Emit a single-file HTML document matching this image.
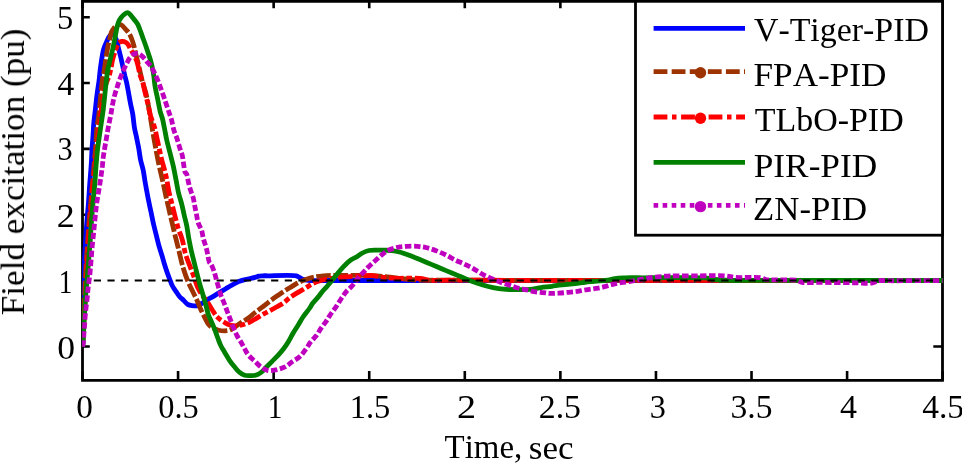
<!DOCTYPE html>
<html><head><meta charset="utf-8"><style>
html,body{margin:0;padding:0;background:#fff;}
body{width:962px;height:465px;overflow:hidden;font-family:"Liberation Serif",serif;}
svg{display:block;}
</style></head><body>
<svg width="962" height="465" viewBox="0 0 962 465">
<defs><clipPath id="pc"><rect x="82.1" y="3" width="861.1" height="375.5"/></clipPath></defs>
<g stroke="#000" fill="none" stroke-width="2.8">
<path d="M82.5,0 V380.3 H942.5 V0" stroke-linecap="square"/>
<path d="M82.5,1.3 H942.5"/>
<path d="M82.50,380.3 V370.9 M82.50,1.3 V8.2 M178.07,380.3 V370.9 M178.07,1.3 V8.2 M273.65,380.3 V370.9 M273.65,1.3 V8.2 M369.23,380.3 V370.9 M369.23,1.3 V8.2 M464.80,380.3 V370.9 M464.80,1.3 V8.2 M560.38,380.3 V370.9 M560.38,1.3 V8.2 M655.95,380.3 V370.9 M655.95,1.3 V8.2 M751.52,380.3 V370.9 M751.52,1.3 V8.2 M847.10,380.3 V370.9 M847.10,1.3 V8.2 M942.68,380.3 V370.9 M942.68,1.3 V8.2 M82.5,346.50 H89.8 M942.5,346.50 H933.3 M82.5,280.64 H89.8 M942.5,280.64 H933.3 M82.5,214.78 H89.8 M942.5,214.78 H933.3 M82.5,148.92 H89.8 M942.5,148.92 H933.3 M82.5,83.06 H89.8 M942.5,83.06 H933.3 M82.5,17.20 H89.8 M942.5,17.20 H933.3" stroke-width="2.6"/>
</g>
<g clip-path="url(#pc)" fill="none" stroke-width="4.8" stroke-linejoin="round">
<path d="M82.50,346.50 C82.6,342.1 82.9,328.7 83.0,320.0 C83.1,311.5 83.1,302.7 83.3,295.0 C83.4,288.5 83.6,282.9 83.8,276.8 C84.0,270.8 84.2,264.8 84.5,258.7 C84.8,252.4 85.3,245.8 85.7,239.4 C86.1,232.9 86.5,226.2 87.0,220.0 C87.4,214.3 88.0,209.4 88.4,203.7 C88.9,197.5 89.2,190.8 89.7,184.4 C90.2,177.9 90.8,171.2 91.2,165.0 C91.6,159.4 91.7,154.1 92.0,149.0 C92.3,144.4 92.7,140.3 93.0,136.0 C93.3,131.7 93.4,127.3 93.8,123.0 C94.2,118.7 94.8,114.6 95.3,110.0 C95.9,104.9 96.4,99.1 97.1,94.0 C97.7,89.4 98.4,85.4 99.0,81.0 C99.6,76.5 99.9,71.9 100.5,67.5 C101.1,63.2 101.8,58.5 102.4,55.0 C102.9,52.5 103.1,50.9 103.8,48.7 C104.6,46.2 106.0,43.2 107.0,41.0 C107.8,39.3 108.2,37.7 109.2,36.5 C110.1,35.4 111.5,33.8 112.5,34.0 C113.7,34.2 114.9,36.6 115.8,38.5 C117.1,41.1 117.8,45.5 118.6,48.7 C119.3,51.5 119.9,53.8 120.6,56.5 C121.3,59.5 122.0,62.8 122.7,66.0 C123.4,69.2 124.1,72.6 124.8,75.6 C125.5,78.3 126.2,80.6 126.8,83.4 C127.5,86.6 128.1,90.3 128.7,93.7 C129.3,97.1 129.9,100.6 130.6,104.0 C131.3,107.5 132.2,110.8 132.8,114.5 C133.4,118.4 133.7,123.0 134.3,126.8 C134.8,130.0 135.5,132.5 136.2,135.8 C137.0,139.7 138.0,144.5 138.8,148.7 C139.5,152.6 139.8,156.3 140.6,160.0 C141.3,163.5 142.5,166.7 143.2,170.3 C144.0,174.0 144.4,178.1 145.1,181.9 C145.7,185.5 146.3,188.8 147.0,192.3 C147.6,195.7 148.3,199.3 149.0,202.6 C149.6,205.7 150.2,208.3 150.9,211.6 C151.8,215.7 152.8,221.1 153.8,225.3 C154.7,229.0 155.5,232.2 156.4,235.6 C157.3,239.1 158.0,242.6 159.0,246.0 C160.0,249.5 161.2,253.0 162.2,256.3 C163.1,259.4 163.9,262.4 164.8,265.3 C165.6,268.0 166.5,270.6 167.4,273.1 C168.2,275.3 169.0,277.4 169.8,279.5 C170.6,281.5 171.2,283.6 172.2,285.5 C173.2,287.5 174.6,289.3 175.8,291.2 C177.0,293.0 178.1,294.9 179.5,296.5 C180.8,298.0 182.5,299.2 183.9,300.6 C185.2,301.9 186.3,303.6 187.7,304.4 C189.0,305.2 190.4,305.4 192.0,305.6 C193.8,305.9 196.4,306.1 198.1,305.6 C199.6,305.2 200.6,304.2 201.9,303.4 C203.4,302.5 204.8,301.3 206.5,300.2 C208.4,299.0 210.8,297.9 212.9,296.6 C215.1,295.3 217.2,293.9 219.4,292.6 C221.5,291.3 223.7,290.0 225.8,288.7 C228.0,287.4 230.1,286.1 232.3,284.9 C234.4,283.7 236.5,282.4 238.7,281.5 C240.8,280.6 242.9,280.1 245.0,279.6 C247.0,279.1 249.2,278.7 251.0,278.3 C252.5,278.0 253.7,277.8 255.0,277.4 C256.3,277.1 257.6,276.5 258.9,276.2 C260.2,275.9 261.6,275.9 263.0,275.8 C264.6,275.7 265.6,275.8 267.9,275.8 C273.5,275.8 291.6,274.6 296.3,275.8 C298.0,276.2 298.3,276.9 299.5,277.5 C300.9,278.2 302.4,279.1 304.0,279.6 C305.8,280.1 307.4,280.3 310.0,280.5 C314.7,280.8 323.2,280.5 329.8,280.5 C336.4,280.5 342.9,280.5 349.5,280.5 C356.1,280.5 362.7,280.5 369.3,280.5 C375.9,280.5 382.5,280.5 389.1,280.5 C395.7,280.5 402.2,280.5 408.8,280.5 C415.4,280.5 422.0,280.5 428.6,280.5 C435.2,280.5 441.8,280.5 448.4,280.5 C454.9,280.5 461.5,280.5 468.1,280.5 C474.7,280.5 481.3,280.5 487.9,280.5 C494.5,280.5 501.1,280.5 507.7,280.5 C514.2,280.5 520.8,280.5 527.4,280.5 C534.0,280.5 540.6,280.5 547.2,280.5 C553.8,280.5 560.4,280.5 567.0,280.5 C573.5,280.5 580.1,280.5 586.7,280.5 C593.3,280.5 599.9,280.5 606.5,280.5 C613.1,280.5 619.7,280.5 626.2,280.5 C632.8,280.5 639.4,280.5 646.0,280.5 C652.6,280.5 659.2,280.5 665.8,280.5 C672.4,280.5 679.0,280.5 685.5,280.5 C692.1,280.5 698.7,280.5 705.3,280.5 C711.9,280.5 718.5,280.5 725.1,280.5 C731.7,280.5 738.3,280.5 744.8,280.5 C751.4,280.5 758.0,280.5 764.6,280.5 C771.2,280.5 777.8,280.5 784.4,280.5 C791.0,280.5 797.6,280.5 804.1,280.5 C810.7,280.5 817.3,280.5 823.9,280.5 C830.5,280.5 837.1,280.5 843.7,280.5 C850.3,280.5 856.8,280.5 863.4,280.5 C870.0,280.5 876.6,280.5 883.2,280.5 C889.8,280.5 896.4,280.5 903.0,280.5 C909.6,280.5 916.1,280.5 922.7,280.5 C929.3,280.5 939.2,280.5 942.5,280.5" stroke="#0000ff"/>
<path d="M82.50,346.50 C82.7,342.1 83.1,328.7 83.5,320.0 C83.8,311.5 84.2,303.3 84.6,295.0 C85.0,286.7 85.3,278.3 85.8,270.0 C86.3,261.7 86.8,253.3 87.4,245.0 C88.0,236.7 88.6,227.9 89.2,220.0 C89.8,213.0 90.4,206.7 91.0,200.0 C91.6,193.3 92.2,186.7 92.8,180.0 C93.4,173.3 94.0,166.2 94.5,160.0 C95.0,154.6 95.4,150.1 95.8,145.0 C96.2,139.9 96.3,134.3 96.8,129.4 C97.3,124.9 98.0,121.1 98.6,116.5 C99.2,111.4 99.7,105.9 100.3,100.2 C100.9,94.0 101.5,86.2 102.3,80.8 C102.9,76.8 103.6,74.3 104.2,70.5 C105.0,65.9 105.7,59.3 106.4,55.0 C106.9,51.9 107.3,49.6 107.8,47.0 C108.3,44.5 109.0,42.2 109.6,39.7 C110.2,37.1 110.7,33.9 111.5,31.9 C112.1,30.5 112.7,29.7 113.5,28.7 C114.4,27.6 115.7,26.1 117.0,25.5 C118.2,24.9 119.7,24.4 121.0,24.8 C122.6,25.3 124.3,27.9 125.7,29.4 C127.0,30.8 128.2,31.8 129.2,33.4 C130.4,35.4 131.5,38.2 132.3,40.5 C133.1,42.6 133.5,44.4 134.1,46.5 C134.7,48.8 135.2,51.4 135.8,53.9 C136.4,56.4 137.0,58.8 137.7,61.6 C138.5,64.9 139.5,69.0 140.3,72.5 C141.1,75.8 141.6,78.7 142.5,82.0 C143.5,85.7 145.0,89.3 146.0,93.5 C147.2,98.5 148.2,104.6 149.2,110.3 C150.2,116.1 151.1,122.0 152.1,127.9 C153.1,133.9 154.2,140.1 155.3,146.0 C156.3,151.7 157.3,157.1 158.5,162.7 C159.7,168.5 161.2,174.4 162.5,180.3 C163.8,186.3 165.1,192.5 166.4,198.4 C167.7,204.1 169.0,209.5 170.3,215.2 C171.7,221.1 173.1,227.1 174.5,233.1 C176.0,239.1 177.6,245.3 179.0,251.1 C180.3,256.5 181.3,261.5 182.8,266.6 C184.3,271.7 186.2,277.3 188.1,281.8 C189.7,285.6 191.4,288.7 193.0,292.0 C194.5,295.2 196.1,298.3 197.5,301.5 C198.9,304.7 200.2,308.2 201.5,311.0 C202.6,313.4 203.6,315.3 204.7,317.5 C205.9,319.7 206.9,322.4 208.4,324.2 C209.7,325.8 211.3,327.0 213.0,328.0 C214.7,329.0 216.8,329.7 218.7,330.2 C220.6,330.7 222.6,330.8 224.5,330.8 C226.4,330.8 228.2,330.7 230.0,330.0 C232.0,329.2 233.9,327.5 236.0,326.2 C238.3,324.7 240.8,322.9 243.0,321.5 C244.9,320.2 246.6,319.4 248.5,318.0 C250.6,316.5 252.9,314.2 255.0,312.6 C256.8,311.2 258.5,310.0 260.2,308.7 C261.9,307.4 263.5,306.2 265.3,304.8 C267.3,303.2 269.6,301.3 271.8,299.7 C273.9,298.1 276.0,296.7 278.2,295.2 C280.7,293.5 283.5,291.6 286.0,290.0 C288.2,288.6 290.3,287.4 292.4,286.1 C294.6,284.8 296.6,283.4 298.9,282.3 C301.3,281.1 304.1,280.1 306.6,279.2 C308.8,278.4 310.7,277.8 313.1,277.3 C316.1,276.6 319.7,276.1 323.3,275.8 C327.5,275.4 331.9,275.5 336.7,275.4 C342.3,275.3 349.0,275.4 355.0,275.4 C360.8,275.4 367.1,275.4 372.0,275.6 C375.8,275.8 378.6,276.1 382.0,276.4 C385.7,276.7 389.5,277.2 393.3,277.6 C397.2,278.0 400.9,278.6 405.0,279.0 C409.7,279.5 414.7,280.0 420.0,280.2 C426.0,280.4 432.9,280.2 439.4,280.2 C445.8,280.2 452.3,280.2 458.7,280.2 C465.2,280.2 471.6,280.2 478.1,280.2 C484.5,280.2 491.0,280.3 497.4,280.3 C503.9,280.3 510.3,280.3 516.8,280.3 C523.2,280.3 529.7,280.3 536.1,280.3 C542.6,280.3 549.0,280.3 555.5,280.3 C561.9,280.3 568.4,280.3 574.8,280.3 C581.3,280.3 587.7,280.3 594.2,280.3 C600.6,280.3 607.1,280.3 613.5,280.3 C620.0,280.4 626.4,280.4 632.9,280.4 C639.3,280.4 645.8,280.4 652.2,280.4 C658.7,280.4 665.1,280.4 671.6,280.4 C678.0,280.4 684.5,280.4 690.9,280.4 C697.4,280.4 703.8,280.4 710.3,280.4 C716.7,280.4 723.2,280.4 729.6,280.4 C736.1,280.4 742.5,280.4 749.0,280.5 C755.4,280.5 761.9,280.5 768.3,280.5 C774.8,280.5 781.2,280.5 787.7,280.5 C794.1,280.5 800.6,280.5 807.0,280.5 C813.5,280.5 819.9,280.5 826.4,280.5 C832.8,280.5 839.3,280.5 845.7,280.5 C852.2,280.5 858.6,280.5 865.1,280.5 C871.5,280.5 878.0,280.6 884.4,280.6 C890.9,280.6 897.3,280.6 903.8,280.6 C910.2,280.6 916.7,280.6 923.1,280.6 C929.6,280.6 939.3,280.6 942.5,280.6" stroke="#9c3300" stroke-dasharray="14.5 2.6"/>
<path d="M82.50,346.50 C82.8,342.1 83.5,328.7 84.0,320.0 C84.5,311.5 85.0,303.9 85.5,295.0 C86.1,284.9 86.5,272.9 87.1,262.6 C87.6,253.2 88.3,244.2 88.9,235.5 C89.5,227.4 90.2,219.7 90.8,212.0 C91.4,204.5 91.7,197.2 92.3,190.0 C92.9,183.2 93.8,176.7 94.5,170.0 C95.2,163.3 95.9,156.7 96.6,150.0 C97.3,143.3 98.0,136.5 98.8,130.0 C99.5,123.8 100.2,117.8 101.0,112.0 C101.7,106.5 102.5,100.9 103.4,96.0 C104.2,91.7 104.9,87.7 106.0,84.0 C107.0,80.7 108.5,78.0 109.4,75.0 C110.2,72.2 110.7,69.3 111.3,66.6 C111.8,64.0 112.2,61.3 112.8,59.0 C113.3,57.0 113.8,55.4 114.4,53.6 C114.9,51.9 115.4,50.4 116.1,48.7 C116.8,46.9 117.4,44.2 118.6,43.0 C119.5,42.1 120.7,41.6 121.8,41.5 C123.0,41.4 124.6,41.7 125.7,42.3 C126.7,42.9 127.5,43.7 128.3,44.8 C129.3,46.2 130.0,48.3 131.0,50.0 C132.0,51.7 133.2,53.4 134.1,55.2 C135.0,56.9 135.9,58.8 136.5,60.5 C137.1,62.1 137.4,63.3 137.9,65.2 C138.6,68.0 139.3,72.5 140.2,75.5 C140.9,77.9 142.0,79.5 142.7,81.9 C143.5,84.6 144.0,88.1 144.7,91.0 C145.3,93.7 146.0,96.1 146.6,98.7 C147.2,101.3 147.9,103.8 148.5,106.5 C149.2,109.5 149.7,112.7 150.6,116.0 C151.7,119.8 153.6,123.9 154.7,127.9 C155.8,131.8 156.4,135.6 157.3,139.5 C158.1,143.4 159.0,147.5 159.8,151.1 C160.5,154.3 161.1,157.6 161.8,160.2 C162.3,162.2 162.7,163.4 163.3,165.5 C164.2,168.7 165.5,173.5 166.4,177.7 C167.4,182.2 168.0,187.3 169.0,191.9 C170.0,196.3 171.1,200.5 172.2,204.8 C173.3,209.2 174.4,213.8 175.5,218.0 C176.5,221.8 177.4,225.7 178.4,228.9 C179.2,231.5 180.2,233.5 181.0,235.8 C181.7,237.9 182.3,239.7 182.9,242.1 C183.7,245.4 184.3,249.8 185.4,253.7 C186.6,257.9 188.5,262.3 190.0,266.3 C191.3,269.9 192.6,273.1 193.9,276.6 C195.1,280.0 196.1,283.8 197.5,287.0 C198.8,289.9 200.4,292.5 202.0,295.0 C203.6,297.3 205.5,299.1 207.1,301.5 C208.9,304.1 210.6,307.4 212.3,310.0 C213.8,312.3 215.0,314.6 216.5,316.3 C217.8,317.7 219.1,318.7 220.5,319.8 C222.0,320.9 223.6,321.9 225.2,322.8 C226.8,323.7 228.4,324.5 230.0,325.0 C231.6,325.5 233.4,325.9 235.0,326.0 C236.5,326.1 237.7,325.9 239.2,325.6 C240.9,325.3 242.6,324.8 244.4,324.2 C246.4,323.5 248.8,322.6 250.8,321.6 C252.7,320.6 254.4,319.5 256.3,318.4 C258.4,317.2 260.5,315.7 262.7,314.5 C264.8,313.3 267.0,312.3 269.2,311.1 C271.7,309.8 274.5,308.2 276.9,306.8 C279.2,305.5 281.3,304.4 283.4,302.9 C285.6,301.4 287.5,299.4 289.8,297.7 C292.2,295.9 295.0,294.2 297.6,292.6 C300.2,291.0 302.8,289.6 305.3,288.1 C307.6,286.8 309.6,285.3 311.8,284.2 C314.0,283.1 316.1,282.1 318.5,281.3 C321.1,280.4 323.9,279.8 326.7,279.2 C329.4,278.6 332.0,278.2 335.0,277.8 C338.6,277.3 342.9,277.1 346.7,276.8 C350.3,276.5 353.4,276.3 357.3,276.1 C362.0,275.9 368.3,275.3 372.7,275.6 C376.1,275.8 378.6,276.8 381.8,277.2 C385.4,277.7 388.7,278.0 393.3,278.2 C400.3,278.5 413.3,277.9 420.0,278.5 C424.2,278.9 426.1,279.9 430.0,280.2 C435.5,280.7 443.1,280.2 449.7,280.2 C456.3,280.2 462.9,280.2 469.4,280.2 C476.0,280.2 482.6,280.2 489.1,280.2 C495.7,280.3 502.3,280.3 508.8,280.3 C515.4,280.3 522.0,280.3 528.6,280.3 C535.1,280.3 541.7,280.3 548.3,280.3 C554.8,280.3 561.4,280.3 568.0,280.3 C574.6,280.3 581.1,280.3 587.7,280.3 C594.3,280.3 600.8,280.3 607.4,280.3 C614.0,280.3 620.5,280.3 627.1,280.4 C633.7,280.4 640.3,280.4 646.8,280.4 C653.4,280.4 660.0,280.4 666.5,280.4 C673.1,280.4 679.7,280.4 686.2,280.4 C692.8,280.4 699.4,280.4 706.0,280.4 C712.5,280.4 719.1,280.4 725.7,280.4 C732.2,280.4 738.8,280.4 745.4,280.4 C752.0,280.5 758.5,280.5 765.1,280.5 C771.7,280.5 778.2,280.5 784.8,280.5 C791.4,280.5 797.9,280.5 804.5,280.5 C811.1,280.5 817.7,280.5 824.2,280.5 C830.8,280.5 837.4,280.5 843.9,280.5 C850.5,280.5 857.1,280.5 863.7,280.5 C870.2,280.5 876.8,280.5 883.4,280.6 C889.9,280.6 896.5,280.6 903.1,280.6 C909.6,280.6 916.2,280.6 922.8,280.6 C929.4,280.6 939.2,280.6 942.5,280.6" stroke="#ff0000" stroke-dasharray="14.5 2.8 5.5 2.8"/>
<path d="M82.50,346.50 C82.6,345.7 83.0,343.6 83.2,341.6 C83.5,338.6 83.5,334.1 83.7,330.0 C83.9,325.3 84.2,320.0 84.5,315.0 C84.8,310.0 85.1,305.0 85.4,300.0 C85.7,295.0 86.1,290.0 86.5,285.0 C86.9,280.0 87.5,275.0 87.9,270.0 C88.3,265.0 88.7,260.0 89.1,255.0 C89.5,250.0 89.9,245.4 90.3,240.0 C90.7,233.8 91.1,226.3 91.6,220.0 C92.0,214.4 92.4,209.6 92.9,204.0 C93.5,197.7 94.3,190.6 94.8,184.0 C95.3,177.6 95.6,171.1 96.1,165.0 C96.6,159.4 97.0,154.1 97.6,149.0 C98.1,144.4 98.8,140.3 99.4,136.0 C100.0,131.7 100.7,127.3 101.3,123.0 C101.9,118.7 102.6,114.6 103.2,110.0 C103.8,104.9 104.4,99.1 104.9,94.0 C105.4,89.4 105.8,85.1 106.3,81.0 C106.8,77.2 107.1,73.7 107.8,70.0 C108.5,66.3 109.5,62.6 110.3,59.0 C111.1,55.5 112.0,52.3 112.8,48.7 C113.7,44.7 114.6,39.9 115.4,35.8 C116.1,32.2 116.6,28.4 117.4,25.5 C118.0,23.3 118.6,21.5 119.6,19.8 C120.6,18.1 121.8,16.4 123.2,15.2 C124.5,14.1 126.5,12.6 127.7,12.6 C128.5,12.6 128.9,13.3 129.6,13.9 C130.8,15.0 132.4,17.3 133.8,19.0 C135.1,20.7 136.6,22.3 137.7,24.2 C138.8,26.2 139.5,28.4 140.3,30.6 C141.2,32.9 142.0,35.3 142.8,37.7 C143.7,40.1 144.6,42.4 145.4,44.8 C146.3,47.3 147.1,50.0 148.0,52.6 C148.8,55.1 149.8,57.6 150.5,60.2 C151.2,62.8 151.9,65.4 152.4,68.0 C153.0,70.6 153.4,73.2 153.8,76.0 C154.3,79.1 154.4,82.3 155.0,85.8 C155.6,89.8 156.7,94.4 157.6,98.7 C158.5,103.0 159.3,108.0 160.2,111.6 C160.9,114.3 161.7,116.0 162.4,118.5 C163.2,121.4 163.7,124.5 164.4,127.9 C165.2,131.9 165.9,136.5 166.9,140.8 C167.9,145.1 169.1,149.4 170.2,153.7 C171.3,158.0 172.4,162.2 173.4,166.6 C174.4,171.1 175.2,175.8 176.1,180.3 C177.0,184.7 177.6,189.0 178.6,193.2 C179.6,197.2 180.9,200.9 181.9,204.8 C182.9,208.7 183.6,212.8 184.5,216.5 C185.3,219.8 186.1,222.6 186.8,226.0 C187.5,229.7 188.0,233.9 188.7,237.9 C189.5,242.1 190.3,246.5 191.3,250.8 C192.3,255.1 193.5,259.6 194.5,263.7 C195.4,267.3 196.3,270.8 197.1,274.0 C197.8,276.8 198.5,279.3 199.2,282.0 C199.9,284.7 200.7,287.4 201.5,290.0 C202.2,292.4 202.9,294.7 203.6,297.0 C204.2,299.1 204.7,300.8 205.4,303.2 C206.3,306.6 207.4,312.0 208.6,315.3 C209.5,317.7 210.4,319.4 211.3,321.5 C212.3,323.7 213.3,326.0 214.2,328.2 C215.1,330.4 215.8,332.5 216.6,334.7 C217.4,336.8 218.1,339.0 218.9,341.0 C219.6,342.8 220.1,344.3 221.0,346.0 C222.0,348.0 223.3,350.0 224.6,352.2 C226.2,354.8 228.0,358.2 229.8,360.8 C231.3,363.0 232.9,364.9 234.5,366.8 C236.1,368.7 237.5,370.7 239.3,372.1 C241.0,373.5 242.8,374.7 244.7,375.3 C246.4,375.8 248.2,375.6 250.0,375.6 C251.8,375.6 253.6,375.8 255.4,375.3 C257.3,374.8 259.1,373.8 260.8,372.6 C262.7,371.2 264.4,369.1 266.2,367.3 C268.0,365.5 269.7,363.8 271.6,361.9 C273.6,359.8 276.0,357.6 278.0,355.4 C279.9,353.3 281.7,351.2 283.4,349.0 C285.1,346.8 286.7,344.5 288.2,342.0 C289.8,339.3 291.3,336.3 292.9,333.5 C294.5,330.8 296.2,328.2 297.9,325.5 C299.6,322.7 301.1,319.8 303.0,317.0 C304.9,314.1 307.6,311.1 309.4,308.5 C310.8,306.5 311.5,304.8 312.9,303.0 C314.5,300.9 316.8,298.6 318.5,296.6 C319.9,294.8 321.0,293.2 322.4,291.5 C323.8,289.8 325.6,288.1 327.0,286.5 C328.2,285.1 329.0,284.1 330.2,282.6 C332.0,280.4 334.4,277.4 336.6,274.8 C338.7,272.2 340.8,269.5 343.1,267.1 C345.5,264.6 348.2,261.8 350.8,260.0 C353.0,258.5 355.3,257.7 357.3,256.5 C359.1,255.4 360.5,254.0 362.4,253.0 C364.4,252.0 366.6,251.0 368.9,250.5 C371.3,250.0 374.0,250.2 376.6,250.1 C379.3,250.0 382.3,250.1 385.0,250.2 C387.4,250.3 389.6,250.3 392.0,250.6 C394.7,250.9 397.4,251.5 400.3,252.3 C403.6,253.2 407.2,254.5 410.6,255.8 C414.1,257.1 417.5,258.7 421.0,260.1 C424.4,261.5 427.9,263.0 431.3,264.4 C434.7,265.8 438.2,267.3 441.6,268.7 C445.0,270.1 448.5,271.6 451.9,273.0 C455.3,274.4 458.8,275.9 462.2,277.3 C465.6,278.7 469.0,280.3 472.5,281.6 C475.9,282.9 479.3,284.0 482.8,285.0 C486.2,286.0 489.6,286.9 493.1,287.6 C496.5,288.3 499.9,288.9 503.5,289.2 C507.2,289.6 510.9,289.6 515.0,289.6 C519.7,289.7 525.4,289.8 530.0,289.4 C534.0,289.1 537.3,288.1 541.0,287.6 C544.7,287.1 548.4,286.8 552.0,286.3 C555.4,285.8 558.4,285.2 562.0,284.8 C566.0,284.3 571.0,284.0 575.0,283.6 C578.6,283.2 581.5,282.7 585.0,282.3 C588.8,281.9 593.1,281.6 597.0,281.2 C600.7,280.9 604.8,280.7 608.0,280.2 C610.6,279.8 612.4,279.0 615.0,278.6 C618.0,278.1 621.2,278.0 625.0,277.8 C630.2,277.6 637.2,277.8 643.3,277.8 C649.4,277.8 655.6,277.7 661.7,277.7 C667.8,277.7 673.4,277.7 680.0,277.7 C687.7,277.7 698.6,277.4 705.0,277.9 C709.1,278.2 711.3,279.1 715.0,279.5 C719.5,280.0 724.7,280.2 730.0,280.4 C736.0,280.6 742.9,280.4 749.3,280.4 C755.8,280.4 762.2,280.4 768.6,280.4 C775.1,280.4 781.5,280.4 788.0,280.4 C794.4,280.4 800.8,280.4 807.3,280.4 C813.7,280.4 820.2,280.4 826.6,280.4 C833.0,280.4 839.5,280.5 845.9,280.5 C852.3,280.5 858.8,280.5 865.2,280.5 C871.7,280.5 878.1,280.5 884.5,280.5 C891.0,280.5 897.4,280.5 903.9,280.5 C910.3,280.5 916.7,280.5 923.2,280.5 C929.6,280.5 939.3,280.5 942.5,280.5" stroke="#008000"/>
<path d="M82.50,346.50 C82.6,346.1 83.0,345.1 83.2,344.0 C83.6,341.9 83.6,338.0 83.8,335.0 C84.0,332.0 84.3,329.0 84.5,326.0 C84.7,323.0 84.9,320.0 85.1,317.0 C85.4,314.0 85.7,310.9 86.0,308.0 C86.3,305.3 86.7,302.7 87.0,300.0 C87.3,297.1 87.5,294.0 87.8,291.0 C88.1,288.0 88.5,285.0 88.9,282.0 C89.3,279.0 89.7,276.0 90.0,273.0 C90.3,270.0 90.5,267.0 90.8,264.0 C91.0,261.0 91.3,258.0 91.5,255.0 C91.7,252.0 91.9,249.0 92.2,246.0 C92.5,243.0 92.9,240.0 93.2,237.0 C93.5,234.0 93.8,231.0 94.1,228.0 C94.4,225.0 94.7,222.0 95.0,219.0 C95.3,216.0 95.5,213.1 95.9,210.0 C96.3,206.8 96.7,203.2 97.2,200.0 C97.7,196.9 98.2,193.9 98.7,191.0 C99.2,188.3 99.6,185.7 100.0,183.0 C100.4,180.3 100.8,177.7 101.2,175.0 C101.6,172.1 102.0,169.0 102.4,166.0 C102.7,163.0 102.9,160.0 103.3,157.0 C103.7,153.9 104.3,150.6 104.8,147.5 C105.3,144.5 105.9,141.5 106.4,138.5 C106.9,135.5 107.4,132.4 107.9,129.4 C108.5,126.4 109.1,123.3 109.7,120.3 C110.3,117.3 110.9,114.4 111.4,111.5 C111.9,108.6 112.3,105.5 112.9,102.7 C113.4,100.0 114.0,97.6 114.7,95.0 C115.4,92.4 116.3,89.9 117.1,87.3 C117.9,84.7 118.7,82.2 119.7,79.5 C120.8,76.6 122.0,73.3 123.3,70.5 C124.5,67.9 125.8,65.3 127.0,63.0 C128.0,61.0 128.8,59.0 130.0,57.5 C131.1,56.1 132.6,54.6 134.0,54.0 C135.2,53.5 136.6,53.4 137.8,53.6 C138.9,53.8 139.9,54.4 141.0,55.2 C142.3,56.1 143.7,57.7 144.8,59.0 C145.8,60.2 146.6,61.4 147.6,62.5 C148.6,63.6 149.6,64.4 150.6,65.8 C151.9,67.7 153.2,70.4 154.4,72.9 C155.7,75.6 157.1,78.6 158.2,81.3 C159.2,83.7 159.9,85.9 160.8,88.4 C161.8,91.2 163.0,94.5 164.0,97.4 C164.9,100.1 165.7,102.6 166.6,105.2 C167.5,107.8 168.4,110.4 169.2,112.9 C170.0,115.2 170.7,116.9 171.4,119.4 C172.3,122.6 173.0,127.1 174.0,130.5 C174.9,133.6 176.3,136.3 177.2,139.2 C178.1,141.9 178.8,144.6 179.6,147.3 C180.4,149.9 181.5,152.3 182.2,155.0 C182.9,157.9 183.1,161.1 183.6,164.0 C184.1,166.7 184.2,170.3 185.0,172.0 C185.4,173.0 186.1,173.0 186.6,174.0 C187.4,175.7 187.7,179.1 188.3,181.6 C188.9,184.2 189.5,186.8 190.3,189.4 C191.1,192.1 192.4,194.9 193.2,197.7 C193.9,200.5 194.3,203.4 194.8,206.1 C195.3,208.8 195.9,211.2 196.4,213.9 C197.0,216.8 197.3,220.1 198.2,222.9 C199.1,225.5 200.7,227.6 201.6,230.2 C202.5,233.0 202.7,236.3 203.5,239.2 C204.2,241.9 205.3,244.4 206.0,246.9 C206.7,249.3 207.1,251.5 207.6,254.0 C208.2,256.7 208.5,260.6 209.4,262.4 C209.9,263.4 210.6,263.5 211.2,264.5 C212.2,266.1 213.4,269.3 214.2,271.8 C215.1,274.3 215.6,276.9 216.3,279.5 C217.1,282.2 217.9,285.1 218.7,287.9 C219.5,290.7 220.3,293.6 221.3,296.3 C222.3,298.9 223.5,301.4 224.5,304.0 C225.5,306.5 226.4,309.1 227.3,311.6 C228.3,314.1 229.2,316.6 230.2,319.2 C231.2,321.9 232.2,324.8 233.4,327.6 C234.6,330.4 235.8,333.4 237.2,336.0 C238.5,338.5 240.2,340.8 241.5,343.0 C242.6,344.8 243.3,346.4 244.3,348.2 C245.5,350.3 246.6,352.9 248.3,355.0 C250.1,357.2 252.7,359.2 254.8,361.2 C256.8,363.1 258.6,365.2 260.8,366.8 C263.1,368.4 265.6,370.1 268.3,370.6 C271.0,371.1 274.1,370.2 276.9,369.6 C279.8,368.9 282.9,368.0 285.5,366.7 C287.9,365.4 289.7,363.5 292.0,361.9 C294.5,360.1 297.7,358.7 300.0,356.5 C302.3,354.4 304.2,351.5 306.0,349.0 C307.7,346.6 309.0,344.1 310.8,341.8 C312.6,339.5 314.9,337.6 316.6,335.3 C318.3,333.1 319.5,330.5 321.1,328.2 C322.7,325.8 324.7,323.5 326.3,321.1 C327.9,318.8 329.2,316.3 330.8,314.0 C332.4,311.6 334.3,309.4 336.0,306.9 C337.7,304.4 339.3,301.6 341.0,299.0 C342.7,296.5 344.3,293.9 346.3,291.6 C348.2,289.3 350.8,287.5 352.7,285.2 C354.6,283.0 356.1,280.4 357.9,278.2 C359.6,276.2 361.3,274.5 363.1,272.6 C365.0,270.6 366.8,268.5 368.9,266.5 C371.1,264.3 373.7,262.0 376.0,260.0 C378.0,258.2 379.8,256.4 381.8,254.8 C383.8,253.2 385.8,251.6 388.0,250.5 C390.2,249.4 392.8,248.6 395.0,248.0 C396.8,247.5 398.2,247.2 400.0,246.9 C402.2,246.6 404.6,246.4 407.2,246.3 C410.3,246.2 414.4,246.1 417.5,246.3 C420.0,246.5 422.1,246.8 424.4,247.2 C426.7,247.7 428.9,248.2 431.3,249.0 C434.0,249.9 437.1,251.1 439.9,252.3 C442.6,253.4 445.1,254.5 447.6,255.8 C450.2,257.1 452.7,258.8 455.3,260.1 C457.9,261.4 460.5,262.3 463.1,263.5 C465.7,264.7 468.3,266.0 470.8,267.3 C473.2,268.6 475.4,269.9 477.7,271.3 C480.0,272.6 482.1,274.1 484.5,275.4 C487.2,276.8 490.4,278.0 493.1,279.2 C495.5,280.2 497.5,281.1 500.0,282.0 C502.7,283.0 505.9,283.9 508.8,284.9 C511.5,285.8 514.1,287.0 516.8,287.8 C519.5,288.6 522.4,289.0 525.2,289.6 C528.1,290.2 531.2,291.1 534.2,291.6 C537.2,292.1 540.4,292.3 543.2,292.6 C545.7,292.9 547.8,293.3 550.3,293.4 C553.0,293.5 555.8,293.4 558.7,293.2 C561.8,293.0 565.2,292.6 568.4,292.3 C571.5,292.0 574.6,291.7 577.4,291.3 C579.9,290.9 582.0,290.4 584.5,290.0 C587.3,289.6 590.5,289.3 593.5,288.8 C596.5,288.3 599.6,287.9 602.6,287.2 C605.5,286.5 608.3,285.5 611.0,284.8 C613.6,284.1 616.1,283.4 618.7,283.0 C621.4,282.5 624.0,282.5 626.8,282.1 C629.7,281.6 632.8,280.9 635.8,280.3 C638.8,279.7 641.9,279.1 644.8,278.6 C647.5,278.2 649.9,277.8 652.6,277.5 C655.5,277.1 658.6,276.8 661.6,276.5 C664.6,276.2 666.7,276.0 670.6,275.9 C677.6,275.7 690.5,275.8 700.0,275.8 C708.9,275.8 719.6,275.4 726.0,275.9 C729.8,276.2 731.2,277.1 735.0,277.4 C741.4,278.0 755.8,276.8 761.0,277.7 C763.4,278.1 763.6,279.0 766.0,279.5 C771.9,280.6 791.1,279.1 797.0,280.3 C799.4,280.8 799.8,281.9 802.0,282.3 C806.0,283.1 813.8,282.4 819.6,282.4 C825.5,282.5 831.4,282.5 837.3,282.6 C843.2,282.6 849.1,282.7 855.0,282.8 C860.8,282.8 868.5,283.7 872.6,282.9 C875.0,282.5 875.7,281.2 878.0,280.8 C881.9,280.1 888.8,280.8 894.1,280.8 C899.5,280.7 904.9,280.7 910.2,280.7 C915.6,280.7 921.0,280.7 926.4,280.7 C931.8,280.6 939.8,280.6 942.5,280.6" stroke="#bf00bf" stroke-dasharray="6.4 2.6"/>
<path d="M93.8,280.5 H938" stroke="#000" stroke-width="2.2" stroke-dasharray="7.2 6.44"/>
</g>
<defs><filter id="gs" x="0" y="0" width="1" height="1"><feOffset dx="0" dy="0"/></filter></defs>
<g font-family="Liberation Serif" font-size="34" fill="#000" style="font-kerning:none" filter="url(#gs)">
<text x="76.13" y="417.69" textLength="16.63" lengthAdjust="spacingAndGlyphs">0</text>
<text x="158.27" y="417.61" textLength="40.50" lengthAdjust="spacingAndGlyphs">0.5</text>
<text x="267.73" y="417.77" textLength="14.63" lengthAdjust="spacingAndGlyphs">1</text>
<text x="349.74" y="417.53" textLength="40.63" lengthAdjust="spacingAndGlyphs">1.5</text>
<text x="456.92" y="417.81" textLength="19.08" lengthAdjust="spacingAndGlyphs">2</text>
<text x="538.71" y="417.57" textLength="42.31" lengthAdjust="spacingAndGlyphs">2.5</text>
<text x="649.66" y="417.64" textLength="16.10" lengthAdjust="spacingAndGlyphs">3</text>
<text x="730.60" y="417.57" textLength="41.91" lengthAdjust="spacingAndGlyphs">3.5</text>
<text x="840.04" y="417.74" textLength="16.99" lengthAdjust="spacingAndGlyphs">4</text>
<text x="922.15" y="417.50" textLength="41.86" lengthAdjust="spacingAndGlyphs">4.5</text>
<text x="57.11" y="28.52" textLength="16.26" lengthAdjust="spacingAndGlyphs">5</text>
<text x="57.44" y="94.59" textLength="16.78" lengthAdjust="spacingAndGlyphs">4</text>
<text x="57.45" y="160.44" textLength="15.13" lengthAdjust="spacingAndGlyphs">3</text>
<text x="56.72" y="226.61" textLength="17.96" lengthAdjust="spacingAndGlyphs">2</text>
<text x="58.80" y="292.72" textLength="13.63" lengthAdjust="spacingAndGlyphs">1</text>
<text x="57.24" y="358.64" textLength="17.81" lengthAdjust="spacingAndGlyphs">0</text>
<text x="444.61" y="457.99" textLength="77.67" lengthAdjust="spacingAndGlyphs">Time,</text>
<text x="528.86" y="458.84" textLength="44.71" lengthAdjust="spacingAndGlyphs">sec</text>
<text transform="translate(24.0,314.3) rotate(-90)" x="-1.01" y="0" textLength="286.76" lengthAdjust="spacingAndGlyphs">Field excitation (pu)</text>
</g>
<rect x="635.5" y="1.3" width="307" height="233.9" fill="#fff" stroke="#000" stroke-width="2.8"/>
<path d="M653.6,28.4 H745" stroke="#0000ff" stroke-width="4.8" fill="none"/>
<text x="753.92" y="40.8" textLength="175.04" lengthAdjust="spacingAndGlyphs" font-family="Liberation Serif" font-size="34" style="font-kerning:none" filter="url(#gs)">V-Tiger-PID</text>
<path d="M653.6,71.6 H745" stroke="#9c3300" stroke-width="4.8" fill="none" stroke-dasharray="13.8 4.28"/>
<circle cx="700.5" cy="72.8" r="5.7" fill="#9c3300"/>
<text x="753.49" y="85.9" textLength="133.02" lengthAdjust="spacingAndGlyphs" font-family="Liberation Serif" font-size="34" style="font-kerning:none" filter="url(#gs)">FPA-PID</text>
<path d="M653.6,117.0 H745" stroke="#ff0000" stroke-width="4.8" fill="none" stroke-dasharray="13.8 4.6 4.5 4.6"/>
<circle cx="700.5" cy="118.2" r="5.7" fill="#ff0000"/>
<text x="754.69" y="131.4" textLength="148.97" lengthAdjust="spacingAndGlyphs" font-family="Liberation Serif" font-size="34" style="font-kerning:none" filter="url(#gs)">TLbO-PID</text>
<path d="M653.6,162.3 H745" stroke="#008000" stroke-width="4.8" fill="none"/>
<text x="753.78" y="176.9" textLength="123.43" lengthAdjust="spacingAndGlyphs" font-family="Liberation Serif" font-size="34" style="font-kerning:none" filter="url(#gs)">PIR-PID</text>
<path d="M653.6,205.4 H745" stroke="#bf00bf" stroke-width="4.8" fill="none" stroke-dasharray="4.6 4.44"/>
<circle cx="700.5" cy="206.6" r="5.7" fill="#bf00bf"/>
<text x="753.14" y="220.4" textLength="113.85" lengthAdjust="spacingAndGlyphs" font-family="Liberation Serif" font-size="34" style="font-kerning:none" filter="url(#gs)">ZN-PID</text>
</svg>
</body></html>
